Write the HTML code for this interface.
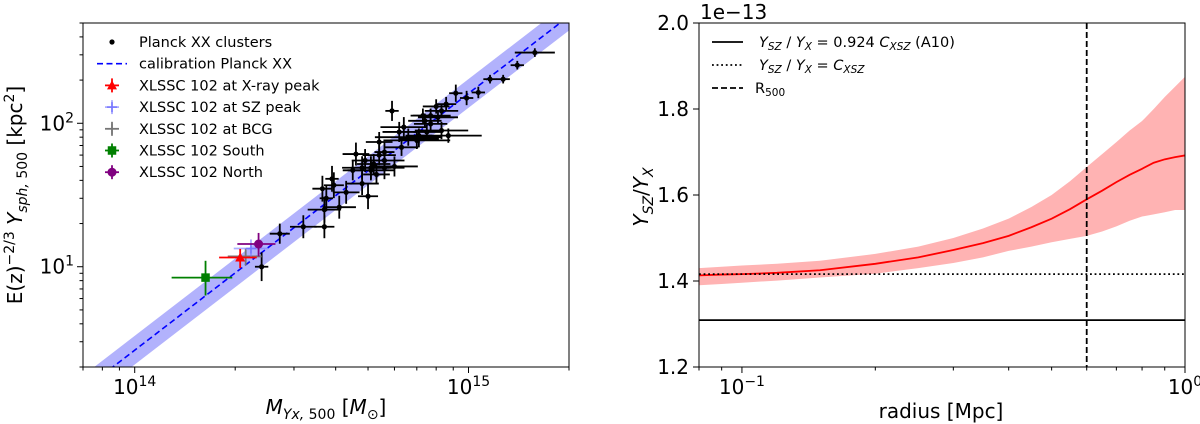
<!DOCTYPE html>
<html><head><meta charset="utf-8"><style>
html,body{margin:0;padding:0;background:#fff;}
svg{display:block;font-family:"DejaVu Sans","Liberation Sans",sans-serif;}
</style></head><body>
<svg id="fig" width="1200" height="424" viewBox="0 0 1200 424" xmlns="http://www.w3.org/2000/svg">
<defs>
<clipPath id="clipL"><rect x="83" y="23" width="486" height="344"/></clipPath>
<clipPath id="clipR"><rect x="699" y="23" width="486" height="344"/></clipPath>
</defs>
<g id="left"></g>
<g id="right"></g>
</svg>
<script>
// ---------- Left panel data ----------
const clusterMass = [15.8,14.0,12.7,11.6,10.7,9.87,9.16,8.57,8.3,8.0,8.1,7.7,7.3,7.4,5.9,8.3,8.7,7.5,7.1,6.6,6.4,6.2,6.3,5.6,5.4,5.4,5.2,4.9,5.1,6.0,5.3,4.6,4.5,4.8,5.0,3.9,3.95,3.75,3.65,4.3,4.1,3.7,3.7,3.2,2.72,2.4,7.1,5.6,7.7,7.0,5.1,5.6,4.8];
const clusterY = [311,254,203,203,164,150,162,136,122,131,110,113,113,104,122,89,82,87,82,80,94,87,68,63,74,60,52,55,47,50,44,61,47,38,31,41,37,30,35,33,26,25,19,19,17,10,78,55,99,76,49,49,49];
const clusterXErr = [0.06,0.02,0.02,0.02,0.02,0.02,0.02,0.03,0.05,0.04,0.06,0.06,0.03,0.05,0.02,0.08,0.1,0.04,0.04,0.1,0.07,0.05,0.05,0.03,0.04,0.05,0.05,0.04,0.07,0.07,0.04,0.04,0.03,0.05,0.03,0.02,0.03,0.02,0.03,0.04,0.05,0.05,0.03,0.04,0.03,0.02,0.06,0.06,0.05,0.1,0.06,0.06,0.06];
const clusterYErr = [0.03,0.03,0.03,0.03,0.04,0.05,0.06,0.05,0.05,0.05,0.05,0.05,0.05,0.05,0.07,0.06,0.05,0.05,0.05,0.06,0.07,0.07,0.06,0.07,0.07,0.07,0.07,0.08,0.07,0.07,0.07,0.08,0.07,0.08,0.09,0.09,0.09,0.09,0.09,0.08,0.08,0.09,0.08,0.08,0.07,0.1,0.06,0.07,0.05,0.06,0.08,0.08,0.08];
const calibNorm = 2.02, calibSlope = 1.79, calibPivot = 0.865, calibScatter = 0.1;
const specialNames = ["XLSSC 102 at X-ray peak","XLSSC 102 at SZ peak","XLSSC 102 at BCG","XLSSC 102 South","XLSSC 102 North"];
const specialMass = [2.07,2.23,2.15,1.63,2.35];
const specialMassLo = [1.79,1.98,1.9,1.29,2.03];
const specialMassHi = [2.32,2.51,2.4,1.96,2.64];
const specialY = [11.6,13.4,11.8,8.4,14.4];
const specialYLo = [9.8,11.5,10.2,6.3,11.8];
const specialYHi = [13.3,15.5,13.4,11.0,17.2];
const specialColors = ["#ff0000","#7777ff","#777777","#008000","#800080"];
const specialMarkers = ["tri","plus","plus","square","circle"];
const leftXTicks = [1,10];
const leftXTickLabels = ["14","15"];
const leftYTicks = [10,100];
const leftYTickLabels = ["1","2"];

// ---------- Right panel data ----------
const radius = [0.08,0.09,0.1,0.12,0.15,0.2,0.25,0.3,0.35,0.4,0.45,0.5,0.55,0.6,0.65,0.7,0.75,0.8,0.85,0.9,0.95,1.0];
const ratioMean = [1.413,1.415,1.416,1.419,1.425,1.44,1.455,1.472,1.488,1.505,1.525,1.545,1.567,1.59,1.61,1.63,1.647,1.661,1.675,1.683,1.688,1.692];
const ratioLow = [1.39,1.393,1.396,1.401,1.408,1.417,1.43,1.442,1.455,1.47,1.48,1.49,1.498,1.505,1.515,1.527,1.54,1.55,1.555,1.56,1.565,1.565];
const ratioHigh = [1.43,1.433,1.436,1.44,1.447,1.463,1.48,1.5,1.522,1.545,1.572,1.6,1.632,1.665,1.695,1.723,1.75,1.772,1.8,1.828,1.852,1.875];
const constA10 = 1.309;
const constCXSZ = 1.416;
const r500 = 0.6;
const rightYTicks = [1.2,1.4,1.6,1.8,2.0];
const rightYTickLabels = ["1.2","1.4","1.6","1.8","2.0"];
const rightXTicks = [0.1,1];
const rightXTickLabels = ["\u22121","0"];

const NS = "http://www.w3.org/2000/svg";
function mk(parent, tag, attrs){ const e=document.createElementNS(NS,tag); for(const k in attrs) e.setAttribute(k,attrs[k]); parent.appendChild(e); return e; }

// ---------- Left panel ----------
const L = document.getElementById('left');
const lx0=83,lx1=569,ly0=23,ly1=367;
const lxmin=Math.log10(0.7), lxmax=Math.log10(20), lymin=Math.log10(2), lymax=Math.log10(500);
const lX = m => lx0+(Math.log10(m)-lxmin)/(lxmax-lxmin)*(lx1-lx0);
const lY = y => ly1-(Math.log10(y)-lymin)/(lymax-lymin)*(ly1-ly0);
const calib = m => calibNorm*Math.pow(m/calibPivot,calibSlope);

const plotL = mk(L,'g',{'clip-path':'url(#clipL)'});


{
  const ms=[0.5,30]; const f=Math.pow(10,calibScatter);
  const pts=[[lX(ms[0]),lY(calib(ms[0])*f)],[lX(ms[1]),lY(calib(ms[1])*f)],[lX(ms[1]),lY(calib(ms[1])/f)],[lX(ms[0]),lY(calib(ms[0])/f)]];
  const band=mk(plotL,'polygon',{points:pts.map(p=>p.join(',')).join(' '),fill:'#b2b2fc',stroke:'none'});
  
  
  const ln=mk(plotL,'line',{x1:lX(ms[0]),y1:lY(calib(ms[0])),x2:lX(ms[1]),y2:lY(calib(ms[1])),stroke:'#0000ff','stroke-width':1.6,'stroke-dasharray':'6,3.5'});
  
  
}
for(let i=0;i<clusterMass.length;i++){
  const g=mk(plotL,'g',{});
  
  
  const m=clusterMass[i], y=clusterY[i];
  const fx=Math.pow(10,clusterXErr[i]), fy=Math.pow(10,clusterYErr[i]);
  mk(g,'line',{x1:lX(m/fx),x2:lX(m*fx),y1:lY(y),y2:lY(y),stroke:'#000','stroke-width':1.8});
  mk(g,'line',{x1:lX(m),x2:lX(m),y1:lY(y/fy),y2:lY(y*fy),stroke:'#000','stroke-width':1.8});
  mk(g,'circle',{cx:lX(m),cy:lY(y),r:2.6,fill:'#000'});
}
function marker(g,type,cx,cy,color,s){
  if(type==='tri') mk(g,'polygon',{points:`${cx},${cy-s} ${cx-s},${cy+s*0.8} ${cx+s},${cy+s*0.8}`,fill:color});
  else if(type==='square') mk(g,'rect',{x:cx-s*0.85,y:cy-s*0.85,width:s*1.7,height:s*1.7,fill:color});
  else if(type==='circle') mk(g,'circle',{cx:cx,cy:cy,r:s*0.9,fill:color});
  else { mk(g,'line',{x1:cx-s,x2:cx+s,y1:cy,y2:cy,stroke:color,'stroke-width':1.5}); mk(g,'line',{x1:cx,x2:cx,y1:cy-s,y2:cy+s,stroke:color,'stroke-width':1.5}); }
}
const specOrder=[2,1,0,3,4];
for(const i of specOrder){
  const g=mk(plotL,'g',{});
  
  
  const c=specialColors[i];
  mk(g,'line',{x1:lX(specialMassLo[i]),x2:lX(specialMassHi[i]),y1:lY(specialY[i]),y2:lY(specialY[i]),stroke:c,'stroke-width':1.8,opacity:i===1?0.6:1});
  mk(g,'line',{x1:lX(specialMass[i]),x2:lX(specialMass[i]),y1:lY(specialYLo[i]),y2:lY(specialYHi[i]),stroke:c,'stroke-width':1.8,opacity:i===1?0.6:1});
  marker(g,specialMarkers[i],lX(specialMass[i]),lY(specialY[i]),c,5);
}
const fL=mk(L,'rect',{x:lx0,y:ly0,width:lx1-lx0,height:ly1-ly0,fill:'none',stroke:'#000','stroke-width':1});


const lAxis=mk(L,'g',{});


for(let d=-1;d<=1;d++) for(let k=1;k<10;k++){
  const m=k*Math.pow(10,d); if(m<0.7||m>20) continue;
  const major=(k===1); const x=lX(m);
  mk(lAxis,'line',{x1:x,x2:x,y1:ly1,y2:ly1+(major?6:3.5),stroke:'#000','stroke-width':1});
}
for(let d=0;d<=2;d++) for(let k=1;k<10;k++){
  const y=k*Math.pow(10,d); if(y<2||y>500) continue;
  const major=(k===1); const yy=lY(y);
  mk(lAxis,'line',{x1:lx0,x2:lx0-(major?6:3.5),y1:yy,y2:yy,stroke:'#000','stroke-width':1});
}
leftXTicks.forEach((m,i)=>{
  const t=mk(lAxis,'text',{x:lX(m),y:394,'text-anchor':'middle','font-size':20});
  
  
  t.innerHTML=`10<tspan dy="-8" font-size="14">${leftXTickLabels[i]}</tspan>`;
});
leftYTicks.forEach((y,i)=>{
  const t=mk(lAxis,'text',{x:lx0-9,y:lY(y)+7,'text-anchor':'end','font-size':20});
  
  
  t.innerHTML=`10<tspan dy="-8" font-size="14">${leftYTickLabels[i]}</tspan>`;
});
{
  const t=mk(L,'text',{x:326,y:414,'text-anchor':'middle','font-size':20});
  
  
  t.innerHTML='<tspan font-style="italic">M</tspan><tspan font-size="14" dy="5" font-style="italic">Yx, </tspan><tspan font-size="14">500</tspan><tspan dy="-5"> [</tspan><tspan font-style="italic">M</tspan><tspan font-size="14" dy="5">⊙</tspan><tspan dy="-5">]</tspan>';
  const ty=mk(L,'text',{x:0,y:0,'text-anchor':'middle','font-size':20,transform:'translate(22,195) rotate(-90)'});
  
  
  ty.innerHTML='E(z)<tspan font-size="14" dy="-8">−2/3</tspan><tspan dy="8"> </tspan><tspan font-style="italic">Y</tspan><tspan font-size="14" dy="5" font-style="italic">sph, </tspan><tspan font-size="14">500</tspan><tspan dy="-5"> [kpc</tspan><tspan font-size="14" dy="-8">2</tspan><tspan dy="8">]</tspan>';
}
{
  const lg=mk(L,'g',{'font-size':14.5});
  
  
  const rows=["Planck XX clusters","calibration Planck XX"].concat(specialNames);
  rows.forEach((txt,i)=>{
    const yy=42+i*21.7;
    const e=mk(lg,'g',{});
    
    
    if(i===0) mk(e,'circle',{cx:112,cy:yy,r:2.6,fill:'#000'});
    else if(i===1) mk(e,'line',{x1:97,x2:127,y1:yy,y2:yy,stroke:'#0000ff','stroke-width':1.6,'stroke-dasharray':'6,3.5'});
    else { const k=i-2; const c=specialColors[k];
      mk(e,'line',{x1:105,x2:119,y1:yy,y2:yy,stroke:c,'stroke-width':1.8,opacity:k===1?0.6:1});
      mk(e,'line',{x1:112,x2:112,y1:yy-7,y2:yy+7,stroke:c,'stroke-width':1.8,opacity:k===1?0.6:1});
      marker(e,specialMarkers[k],112,yy,c,5); }
    const t=mk(e,'text',{x:139,y:yy+5}); t.textContent=txt;
  });
}

// ---------- Right panel ----------
const R=document.getElementById('right');
const rx0=699,rx1=1185,ry0=23,ry1=367;
const rxmin=Math.log10(0.08), rxmax=0, rymin=1.2, rymax=2.0;
const rX = r => rx0+(Math.log10(r)-rxmin)/(rxmax-rxmin)*(rx1-rx0);
const rY = v => ry1-(v-rymin)/(rymax-rymin)*(ry1-ry0);
const plotR=mk(R,'g',{'clip-path':'url(#clipR)'});


{
  const up=radius.map((r,i)=>`${rX(r)},${rY(ratioHigh[i])}`);
  const lo=radius.map((r,i)=>`${rX(r)},${rY(ratioLow[i])}`).reverse();
  const band=mk(plotR,'polygon',{points:up.concat(lo).join(' '),fill:'#ffb3b3'});
  
  
  const line=mk(plotR,'polyline',{points:radius.map((r,i)=>`${rX(r)},${rY(ratioMean[i])}`).join(' '),fill:'none',stroke:'#ff0000','stroke-width':1.8});
  
  
  const a=mk(plotR,'line',{x1:rx0,x2:rx1,y1:rY(constA10),y2:rY(constA10),stroke:'#000','stroke-width':1.8});
  
  
  const b=mk(plotR,'line',{x1:rx0,x2:rx1,y1:rY(constCXSZ),y2:rY(constCXSZ),stroke:'#000','stroke-width':1.8,'stroke-dasharray':'1.8,2.8'});
  
  
  const c=mk(plotR,'line',{x1:rX(r500),x2:rX(r500),y1:ry0,y2:ry1,stroke:'#000','stroke-width':1.8,'stroke-dasharray':'6,3'});
  
  
}
const fR=mk(R,'rect',{x:rx0,y:ry0,width:rx1-rx0,height:ry1-ry0,fill:'none',stroke:'#000','stroke-width':1});


const rAxis=mk(R,'g',{});


for(let d=-2;d<=0;d++) for(let k=1;k<10;k++){
  const r=k*Math.pow(10,d); if(r<0.08-1e-9||r>1+1e-9) continue;
  const major=(k===1); const x=rX(r);
  mk(rAxis,'line',{x1:x,x2:x,y1:ry1,y2:ry1+(major?6:3.5),stroke:'#000','stroke-width':1});
}
rightXTicks.forEach((r,i)=>{
  const t=mk(rAxis,'text',{x:rX(r),y:394,'text-anchor':'middle','font-size':20});
  
  
  t.innerHTML=`10<tspan dy="-8" font-size="14">${rightXTickLabels[i]}</tspan>`;
});
rightYTicks.forEach((v,i)=>{
  mk(rAxis,'line',{x1:rx0,x2:rx0-6,y1:rY(v),y2:rY(v),stroke:'#000','stroke-width':1});
  const t=mk(rAxis,'text',{x:rx0-10,y:rY(v)+7,'text-anchor':'end','font-size':20});
  
  
  t.textContent=rightYTickLabels[i];
});
{
  const off=mk(R,'text',{x:700,y:19,'font-size':20});
  
  
  off.textContent='1e−13';
  const t=mk(R,'text',{x:941,y:418,'text-anchor':'middle','font-size':20});
  
  
  t.textContent='radius [Mpc]';
  const ty=mk(R,'text',{x:0,y:0,'text-anchor':'middle','font-size':20,transform:'translate(648,197) rotate(-90)'});
  
  
  ty.innerHTML='<tspan font-style="italic">Y</tspan><tspan font-size="14" dy="5" font-style="italic">SZ</tspan><tspan dy="-5">/</tspan><tspan font-style="italic">Y</tspan><tspan font-size="14" dy="5" font-style="italic">X</tspan>';
}
{
  const lg=mk(R,'g',{'font-size':14.5});
  
  
  const ys=[42,65,88];
  const labels=['<tspan font-style="italic">Y</tspan><tspan font-size="10.5" dy="3" font-style="italic">SZ</tspan><tspan dy="-3"> / </tspan><tspan font-style="italic">Y</tspan><tspan font-size="10.5" dy="3" font-style="italic">X</tspan><tspan dy="-3"> = 0.924 </tspan><tspan font-style="italic">C</tspan><tspan font-size="10.5" dy="3" font-style="italic">XSZ</tspan><tspan dy="-3"> (A10)</tspan>',
    '<tspan font-style="italic">Y</tspan><tspan font-size="10.5" dy="3" font-style="italic">SZ</tspan><tspan dy="-3"> / </tspan><tspan font-style="italic">Y</tspan><tspan font-size="10.5" dy="3" font-style="italic">X</tspan><tspan dy="-3"> = </tspan><tspan font-style="italic">C</tspan><tspan font-size="10.5" dy="3" font-style="italic">XSZ</tspan>',
    'R<tspan font-size="10.5" dy="3">500</tspan>'];
  const dashes=['none','1.8,2.8','6,3'];
  ys.forEach((yy,i)=>{
    const e=mk(lg,'g',{});
    
    
    mk(e,'line',{x1:712,x2:743,y1:yy,y2:yy,stroke:'#000','stroke-width':1.8,'stroke-dasharray':dashes[i]});
    const t=mk(e,'text',{x:i===2?755:759,y:yy+5}); t.innerHTML=labels[i];
  });
}
</script>
</body></html>
